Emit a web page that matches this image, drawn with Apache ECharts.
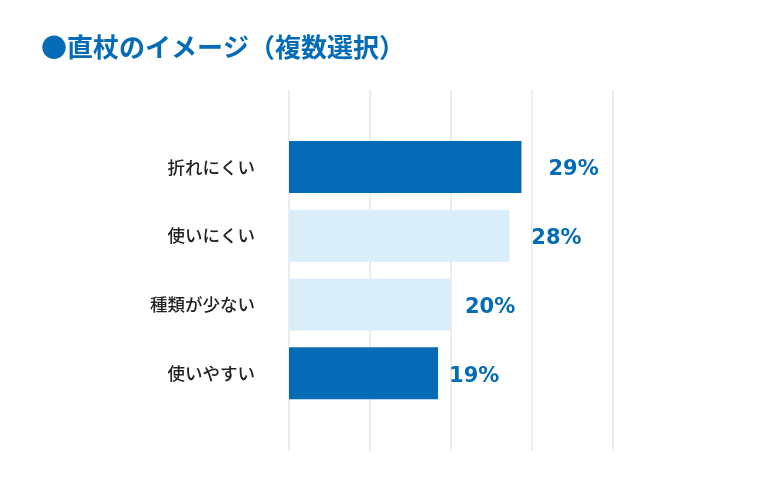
<!DOCTYPE html>
<html>
<head>
<meta charset="UTF-8">
<title>直杖のイメージ（複数選択）</title>
<style>
  html, body { margin: 0; padding: 0; background: #fff; }
  #chart { width: 758px; height: 494px; }
</style>
</head>
<body>
<div id="chart"></div>
<script src="https://cdn.jsdelivr.net/npm/echarts@6/dist/echarts.min.js"></script>
<script>
// data
var categories = ['折れにくい', '使いにくい', '種類が少ない', '使いやすい'];
var values = [28.7, 27.2, 20.0, 18.4];
var valueLabels = ['29%', '28%', '20%', '19%'];

var dark = '#046cb6';
var light = '#daeef9';
var barColors = [dark, light, light, dark];
var labelGap = [27, 22, 14, 11];

var chart = echarts.init(document.getElementById('chart'));

var option = {
    animation: false,
    title: {
        text: '●直杖のイメージ（複数選択）',
        left: 36,
        top: 29,
        textStyle: {
            fontFamily: 'Noto Sans CJK JP',
            fontSize: 26,
            fontWeight: 'bold',
            color: dark
        }
    },
    grid: [
        { left: 289, right: 145, top: 132.5, bottom: 86.5 },
        { left: 289, right: 145, top: 90, bottom: 43 }
    ],
    xAxis: [{
        gridIndex: 0,
        type: 'value',
        min: 0,
        max: 40,
        show: false
    }, {
        gridIndex: 1,
        type: 'value',
        min: 0,
        max: 40,
        interval: 10,
        axisLine: { show: false },
        axisTick: { show: false },
        axisLabel: { show: false },
        splitLine: { show: true, lineStyle: { color: '#ededed', width: 2 } }
    }],
    yAxis: [{
        gridIndex: 0,
        type: 'category',
        inverse: true,
        data: categories,
        axisLine: { show: false },
        axisTick: { show: false },
        axisLabel: {
            margin: 34,
            fontFamily: 'Noto Sans CJK JP',
            fontSize: 17.5,
            fontWeight: 500,
            color: '#222'
        },
        z: 5
    }, {
        gridIndex: 1,
        type: 'value',
        min: 0,
        max: 1,
        show: false,
        splitLine: { show: false }
    }],
    series: [{
        type: 'bar',
        xAxisIndex: 0,
        yAxisIndex: 0,
        barWidth: 52,
        z: 3,
        data: values.map(function (v, i) {
            return {
                value: v,
                itemStyle: { color: barColors[i] },
                label: { distance: labelGap[i] }
            };
        }),
        label: {
            show: true,
            position: 'right',
            offset: [0, 3],
            formatter: function (p) { return valueLabels[p.dataIndex]; },
            fontFamily: 'DejaVu Sans',
            fontWeight: 'bold',
            fontSize: 21,
            color: dark
        }
    }]
};

chart.setOption(option);
</script>
</body>
</html>
